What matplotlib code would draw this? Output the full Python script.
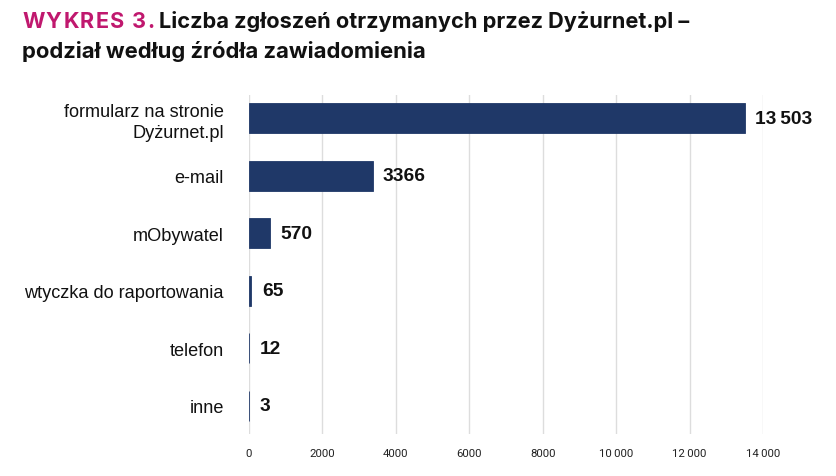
import matplotlib
matplotlib.use("Agg")
import matplotlib.pyplot as plt

# dane
categories = ["formularz na stronie\nDyżurnet.pl", "e-mail", "mObywatel",
              "wtyczka do raportowania", "telefon", "inne"]
values = [13503, 3366, 570, 65, 12, 3]
xticks = [0, 2000, 4000, 6000, 8000, 10000, 12000, 14000]

BAR_COLOR = "#1f3868"
ACCENT = "#c0186e"


def fmt(v):
    # polska konwencja: separator tysięcy od 5 cyfr
    if v >= 10000:
        return f"{v:,}".replace(",", "\u2009")
    return str(v)


fig = plt.figure(figsize=(8.36, 4.77), dpi=100)
ax = fig.add_axes([249 / 836, 1 - 435 / 477, (763 - 249) / 836, (435 - 96) / 477])

pos = list(range(len(categories)))
ax.barh(pos, values, height=0.52, color=BAR_COLOR, edgecolor=BAR_COLOR, linewidth=0.6, zorder=3)

for p, v in zip(pos, values):
    ax.annotate(fmt(v), (v, p), xytext=(7.5, 0), textcoords="offset points",
                va="center", ha="left", fontsize=13.8, fontweight="bold",
                family="Liberation Sans", color="#111111", clip_on=False)

ax.set_xlim(0, 14000)
ax.set_ylim(len(categories) - 1 + 0.49, -0.4)
ax.set_xticks(xticks)
ax.set_xticklabels([fmt(t) for t in xticks], fontsize=8.2, family="Roboto", color="#222222")
ax.set_yticks(pos)
ax.set_yticklabels(categories, fontsize=13.1, family="Liberation Sans", color="#111111",
                   linespacing=1.3)
ax.tick_params(axis="both", length=0)
ax.tick_params(axis="y", pad=18)
ax.tick_params(axis="x", pad=10)
ax.grid(axis="x", color="#dddddd", linewidth=1, zorder=0)
for s in ax.spines.values():
    s.set_visible(False)

# tytuł
fig.canvas.draw()
r = fig.canvas.get_renderer()
x = 22 / 836
y1 = 1 - 28 / 477
for ch in "WYKRES 3.":
    t = fig.text(x, y1, ch, fontsize=15.6, fontweight="bold", family="Inter",
                 color=ACCENT, va="baseline")
    bb = t.get_window_extent(r)
    w = bb.width if ch != " " else 5
    x += (w + 1.4) / 836
fig.text(x + 3 / 836, y1, "Liczba zgłoszeń otrzymanych przez Dyżurnet.pl –", fontsize=15.7,
         fontweight="bold", family="Inter", color="#111111", va="baseline")
fig.text(22 / 836, 1 - 58 / 477, "podział według źródła zawiadomienia", fontsize=15.9,
         fontweight="bold", family="Inter", color="#111111", va="baseline")

fig.savefig("out.png", dpi=100)
